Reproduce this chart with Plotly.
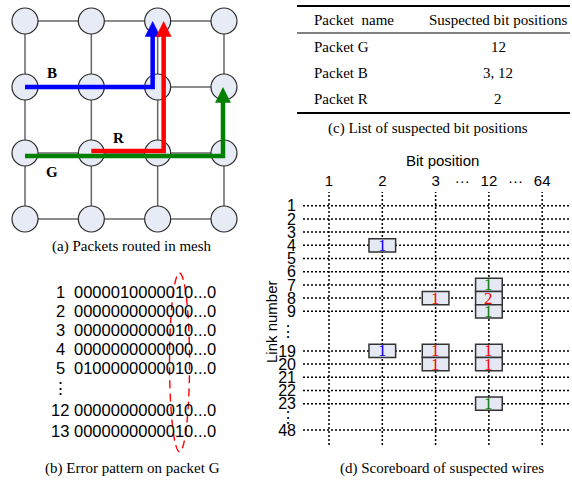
import plotly.graph_objects as go

W, H = 572, 481
SANS = "Liberation Sans, Arial, sans-serif"
SERIF = "Liberation Serif, Times New Roman, serif"

# ---------------- data ----------------
# (a) packets routed in a 4x4 mesh (column, row) of nodes
mesh_cols = [0, 1, 2, 3]
mesh_rows = [0, 1, 2, 3]
route_B = [(0, 1), (2, 1), (2, 0)]
route_R = [(1, 2), (2, 2), (2, 0)]
route_G = [(0, 2), (3, 2), (3, 1)]
route_names = ["B", "R", "G"]

# (b) error pattern on packet G
error_row_labels = ["1", "2", "3", "4", "5", "⋮", "12", "13"]
error_row_bits = ["0000010000010...0", "0000000000000...0", "0000000000010...0",
                  "0000000000000...0", "0100000000010...0", "",
                  "0000000000010...0", "0000000000010...0"]
highlight_bit_G = 12

# (c) list of suspected bit positions
table_header = ["Packet\u00a0 name", "Suspected bit positions"]
table_packets = ["Packet G", "Packet B", "Packet R"]
table_bits = ["12", "3, 12", "2"]

# (d) scoreboard of suspected wires
bit_labels = ["1", "2", "3", "12", "64"]
link_labels = ["1", "2", "3", "4", "5", "6", "7", "8", "9", "19", "20", "21", "22", "23", "48"]
cell_bit = ["2", "3", "12", "12", "12", "2", "3", "3", "12", "12", "12"]
cell_link = ["4", "8", "7", "8", "9", "19", "19", "20", "19", "20", "23"]
cell_count = [1, 1, 1, 2, 1, 1, 1, 1, 1, 1, 1]
cell_packet = ["B", "R", "G", "R", "G", "B", "R", "R", "R", "R", "G"]

# ---------------- styling / layout helpers ----------------
packet_color = {"B": "#0000ff", "R": "#ff0000", "G": "#008000"}


def lin_range(p0, p1, origin, unit):
    return [(p0 - origin) / unit, (p1 - origin) / unit]


def pxx(p):
    return p / W


def pxy(p):
    return 1 - p / H


def note(x, y, text, xref="paper", yref="paper", xanchor="center", family=SERIF, size=15,
         color="black", **kw):
    d = dict(x=x, y=y, xref=xref, yref=yref, text=text, showarrow=False,
             xanchor=xanchor, yanchor="middle", font=dict(family=family, size=size, color=color))
    d.update(kw)
    return d


fig = go.Figure()
shapes = []
annotations = []

# ---------- panel (a) ----------
A_X0, A_XU = 25.0, 66.33
A_Y0, A_YU = 21.0, 66.0
ex, ey = [], []
for r in mesh_rows:
    ex += [mesh_cols[0], mesh_cols[-1], None]
    ey += [r, r, None]
for c in mesh_cols:
    ex += [c, c, None]
    ey += [mesh_rows[0], mesh_rows[-1], None]
fig.add_trace(go.Scatter(x=ex, y=ey, mode="lines", line=dict(color="#666666", width=1.5),
                         xaxis="x", yaxis="y", hoverinfo="skip"))
nx = [c for r in mesh_rows for c in mesh_cols]
ny = [r for r in mesh_rows for c in mesh_cols]
fig.add_trace(go.Scatter(x=nx, y=ny, mode="markers",
                         marker=dict(size=26, color="#e6ebf5", line=dict(color="#2b2b2b", width=1.2)),
                         xaxis="x", yaxis="y", hoverinfo="skip"))

routes = {"B": route_B, "R": route_R, "G": route_G}
route_style = {
    "B": dict(dx=-5, dy=0, lab=(27, -14)),
    "R": dict(dx=6, dy=-2, lab=(27, -15)),
    "G": dict(dx=-1, dy=3, lab=(27, 19)),
}
AH_W, AH_H = 15.0, 15.0
for name in route_names:
    (c0, r0), (c1, r1), (c2, r2) = routes[name]
    st = route_style[name]
    col = packet_color[name]
    ddx = st["dx"] / A_XU
    ddy = st["dy"] / A_YU
    tip_y = r2 + 0.5 / A_YU
    xs = [c0, c1 + ddx, c2 + ddx]
    ys = [r0 + ddy, r1 + ddy, tip_y + (AH_H - 2) / A_YU]
    fig.add_trace(go.Scatter(x=xs, y=ys, mode="lines", line=dict(color=col, width=4.5),
                             xaxis="x", yaxis="y", hoverinfo="skip"))
    hx = c2 + ddx
    fig.add_trace(go.Scatter(
        x=[hx - AH_W / 2 / A_XU, hx + AH_W / 2 / A_XU, hx, hx - AH_W / 2 / A_XU],
        y=[tip_y + AH_H / A_YU, tip_y + AH_H / A_YU, tip_y, tip_y + AH_H / A_YU],
        mode="lines", fill="toself", fillcolor=col, line=dict(color=col, width=0.5),
        xaxis="x", yaxis="y", hoverinfo="skip"))
    annotations.append(note(c0 + st["lab"][0] / A_XU, r0 + st["lab"][1] / A_YU,
                            "<b>%s</b>" % name, xref="x", yref="y"))

annotations.append(note(pxx(132), pxy(246), "(a) Packets routed in mesh"))

# ---------- panel (b) ----------
B_FS = 16.5
B_X0, B_CW = 74.0, B_FS * 0.5562
B_Y0, B_YU = 291.5, 19.0
row_slots_b = [0, 1, 2, 3, 4, 5.1, 6.24, 7.34]
for slot, lab, bits in zip(row_slots_b, error_row_labels, error_row_bits):
    annotations.append(note((60 - B_X0) / B_CW, slot, lab, xref="x2", yref="y2",
                            family=SANS, size=B_FS))
    if bits:
        annotations.append(note(0, slot, bits, xref="x2", yref="y2", xanchor="left",
                                family=SANS, size=B_FS, xshift=-2))
hx = highlight_bit_G - 0.5
shapes.append(dict(type="circle", xref="x2", yref="y2",
                   x0=hx - 10 / B_CW, x1=hx + 10 / B_CW,
                   y0=row_slots_b[0] - 0.97, y1=row_slots_b[-1] + 1.1,
                   line=dict(color="#ff0000", width=1.4, dash="8px,5px")))
annotations.append(note(pxx(132), pxy(468), "(b) Error pattern on packet G"))

# ---------- panel (c) ----------
T_L, T_R = 297, 570
for yv, wv in [(6, 2), (33, 1), (113, 2)]:
    shapes.append(dict(type="line", xref="paper", yref="paper", x0=pxx(T_L), x1=pxx(T_R),
                       y0=pxy(yv), y1=pxy(yv), line=dict(color="black", width=wv)))
annotations.append(note(pxx(312), pxy(20), table_header[0], xanchor="left"))
annotations.append(note(pxx(498), pxy(20), table_header[1]))
for yv, pk, bt in zip([47, 73, 99], table_packets, table_bits):
    annotations.append(note(pxx(312), pxy(yv), pk, xanchor="left"))
    annotations.append(note(pxx(498), pxy(yv), bt))
annotations.append(note(pxx(428), pxy(128), "(c) List of suspected bit positions"))

# ---------- panel (d) ----------
D_X0, D_XU = 329.0, 53.3
D_Y0, D_YU = 205.7, 13.2
bit_slot = {b: i for i, b in enumerate(bit_labels)}
link_slot_list = [0, 1, 2, 3, 4, 5, 6, 7, 8, 11, 12, 13, 14, 15, 17]
link_slot = dict(zip(link_labels, link_slot_list))
dots_x = [2.5, 3.5]
dots_y = [9.5, 16]

for s in bit_slot.values():
    shapes.append(dict(type="line", xref="x3", yref="y3 domain", x0=s, x1=s, y0=0, y1=1,
                       line=dict(color="black", width=1.5, dash="2px,2px"), layer="below"))
for s in link_slot.values():
    shapes.append(dict(type="line", xref="x3 domain", yref="y3", x0=0, x1=1, y0=s, y1=s,
                       line=dict(color="black", width=1.5, dash="2px,2px"), layer="below"))
for b, l, n, p in zip(cell_bit, cell_link, cell_count, cell_packet):
    xs, ys = bit_slot[b], link_slot[l]
    shapes.append(dict(type="rect", xref="x3", yref="y3", x0=xs - 0.25, x1=xs + 0.25,
                       y0=ys - 0.5, y1=ys + 0.5, fillcolor="#e4e9f4",
                       line=dict(color="#333333", width=1.5)))
    annotations.append(note(xs, ys, str(n), xref="x3", yref="y3", size=17,
                            color=packet_color[p]))

annotations.append(note(pxx(442), pxy(160), "Bit position", family=SANS))
annotations.append(note(pxx(271), pxy(322), "Link number", family=SANS, textangle=-90))
annotations.append(note(pxx(442), pxy(468), "(d) Scoreboard of suspected wires"))

xt_vals = list(bit_slot.values()) + dots_x
xt_text = list(bit_slot.keys()) + ["···"] * len(dots_x)
yt_vals = list(link_slot.values()) + dots_y
yt_text = list(link_slot.keys()) + ["⋮"] * len(dots_y)

hidden = dict(visible=False, fixedrange=True, showgrid=False, zeroline=False)
fig.update_layout(
    width=W, height=H, margin=dict(l=0, r=0, t=0, b=0),
    paper_bgcolor="white", plot_bgcolor="rgba(0,0,0,0)", showlegend=False,
    xaxis=dict(domain=[0, 252 / W], range=lin_range(0, 252, A_X0, A_XU), anchor="y", **hidden),
    yaxis=dict(domain=[1 - 240 / H, 1], range=lin_range(240, 0, A_Y0, A_YU), anchor="x", **hidden),
    xaxis2=dict(domain=[0, 262 / W], range=lin_range(0, 262, B_X0, B_CW), anchor="y2", **hidden),
    yaxis2=dict(domain=[1 - 462 / H, 1 - 262 / H], range=lin_range(462, 262, B_Y0, B_YU), anchor="x2", **hidden),
    xaxis3=dict(domain=[303 / W, 570 / W], range=lin_range(303, 570, D_X0, D_XU), anchor="y3",
                side="top", tickvals=xt_vals, ticktext=xt_text, ticks="", showgrid=False,
                zeroline=False, showline=False, fixedrange=True, ticklabelstandoff=2,
                tickfont=dict(family=SANS, size=15, color="black")),
    yaxis3=dict(domain=[1 - 445 / H, 1 - 192 / H], range=lin_range(445, 192, D_Y0, D_YU), anchor="x3",
                tickvals=yt_vals, ticktext=yt_text, ticks="", showgrid=False, zeroline=False,
                showline=False, fixedrange=True, ticklabelstandoff=6,
                tickfont=dict(family=SANS, size=16, color="black")),
    shapes=shapes, annotations=annotations,
)

fig.write_html("out.html", config={"displayModeBar": False},
               post_script="document.body.style.margin='0px';")
